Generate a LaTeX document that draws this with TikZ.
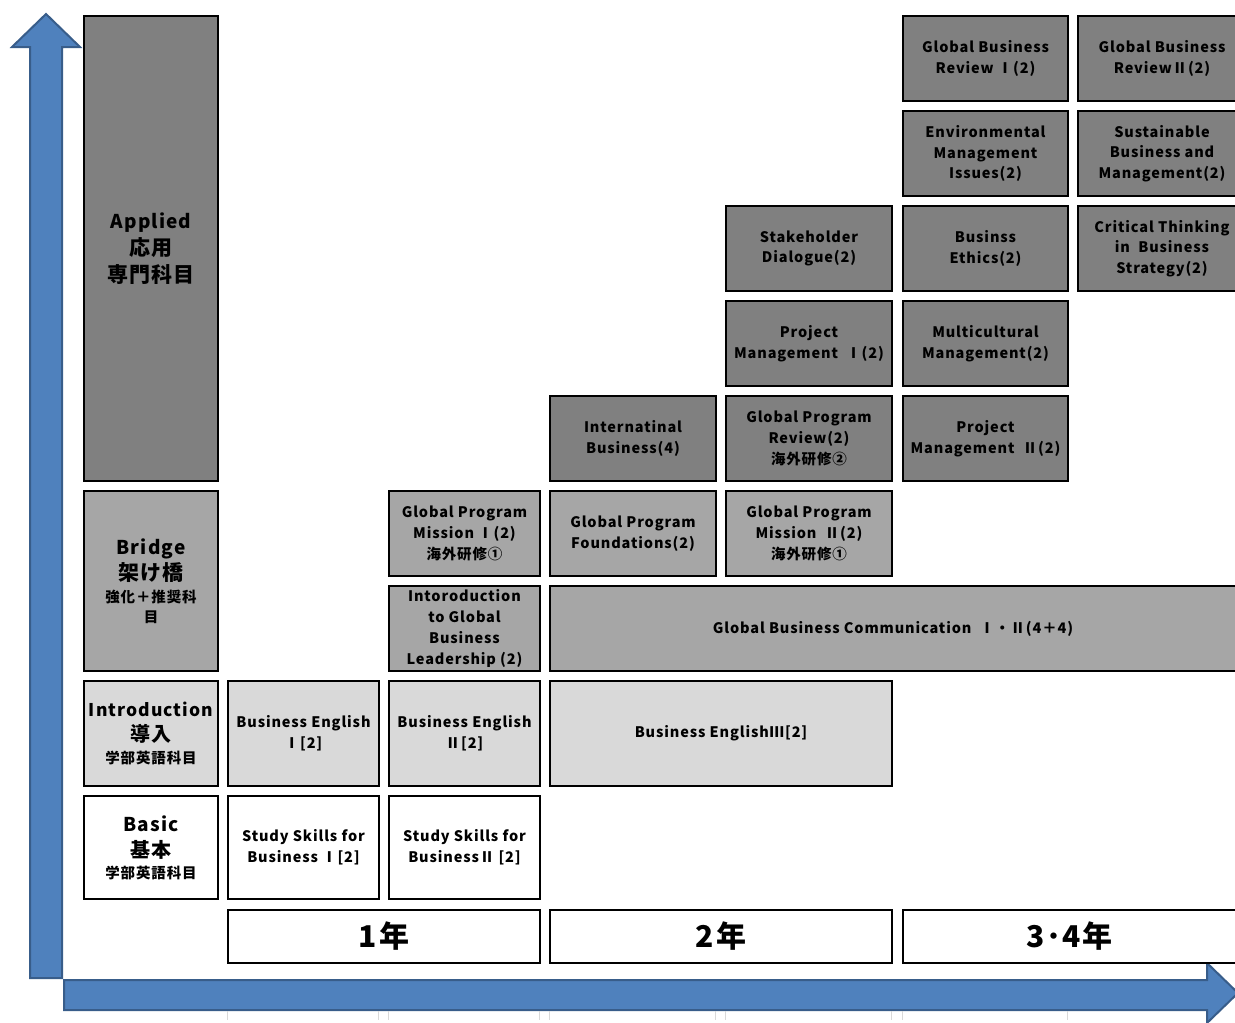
\documentclass[tikz,border=0pt]{standalone}
\usepackage{fontspec}
\setmainfont{Noto Sans CJK JP}[LetterSpace=6]
\definecolor{cdark}{HTML}{808080}
\definecolor{cmid}{HTML}{A6A6A6}
\definecolor{clight}{HTML}{D9D9D9}
\definecolor{bluefill}{HTML}{4F81BD}
\definecolor{blueedge}{HTML}{385D8A}
\newcommand{\crs}[7]{\node[#1, anchor=north west, minimum width={#5-#3}, minimum height={#6-#4}] (#2) at (#3,#4) {#7};}
\newcommand{\fs}[2]{\fontsize{#1}{#2}\selectfont}
\begin{document}
\begin{tikzpicture}[x=1pt,y=-1pt,
  box/.style={draw=black, line width=2pt, rectangle, inner sep=1pt, align=center,
    font=\bfseries\fontsize{14.5}{20.7}\selectfont},
  dk/.style={box, fill=cdark},
  md/.style={box, fill=cmid},
  lt/.style={box, fill=clight},
  wh/.style={box, fill=white},
  yr/.style={box, fill=white, font=\bfseries\fontsize{30}{34}\selectfont},
  arrow/.style={fill=bluefill, draw=blueedge, line width=2pt, line join=miter},
  tick/.style={draw=black!15, line width=0.6pt}]
\useasboundingbox (0,0) rectangle (1235,1023);

% arrows
\draw[arrow] (30,978) -- (30,47) -- (12,47) -- (46,14) -- (80,47) -- (62,47) -- (62,978) -- cycle;
\draw[arrow] (64,1010) -- (64,980) -- (1207,980) -- (1207,963) -- (1238,993) -- (1207,1023) -- (1207,1010) -- cycle;

% faint grid ticks
\foreach \x in {227,378,388,539,549,715,725,891,902,1067}
  \draw[tick] (\x,1011) -- (\x,1020);

% level labels
\crs{dk, font=\bfseries\fs{19}{27}}{applied}{83}{15}{217}{480}{Applied\\\fs{21}{27}応用\\\fs{21}{27}専門科目}
\crs{md, font=\bfseries\fs{19}{24.5}}{bridge}{83}{490}{217}{670}{Bridge\\[1pt]\fs{21}{24.5}架け橋\\[-2pt]\fs{14.5}{21}強化＋推奨科\\[-5pt]\fs{14.5}{21}目}
\crs{lt, font=\bfseries\fs{17.5}{24.5}}{intro}{83}{680}{217}{785}{Introduction\\\fs{20}{24.5}導入\\[-2pt]\fs{14.5}{24.5}学部英語科目}
\crs{wh, font=\bfseries\fs{19}{25}}{basic}{83}{795}{217}{898}{Basic\\[1pt]\fs{20}{25}基本\\[-4pt]\fs{14.5}{24.5}学部英語科目}

% row 1
\crs{dk}{gbr1}{902}{15}{1067}{100}{Global Business\\Review Ⅰ(2)}
\crs{dk}{gbr2}{1077}{15}{1245}{100}{Global Business\\ReviewⅡ(2)}
% row 2
\crs{dk}{env}{902}{110}{1067}{195}{Environmental\\Management\\Issues(2)}
\crs{dk}{sus}{1077}{110}{1245}{195}{Sustainable\\Business and\\Management(2)}
% row 3
\crs{dk}{stake}{725}{205}{891}{290}{Stakeholder\\Dialogue(2)}
\crs{dk}{ethics}{902}{205}{1067}{290}{Businss\\Ethics(2)}
\crs{dk}{crit}{1077}{205}{1245}{290}{Critical Thinking\\in~ Business\\Strategy(2)}
% row 4
\crs{dk}{pm1}{725}{300}{891}{385}{Project\\Management~ Ⅰ(2)}
\crs{dk}{multi}{902}{300}{1067}{385}{Multicultural\\Management(2)}
% row 5
\crs{dk}{intl}{549}{395}{715}{480}{Internatinal\\Business(4)}
\crs{dk}{gpr}{725}{395}{891}{480}{Global Program\\Review(2)\\海外研修②}
\crs{dk}{pm2}{902}{395}{1067}{480}{Project\\Management~ Ⅱ(2)}
% row 6
\crs{md}{gpm1}{388}{490}{539}{575}{Global Program\\Mission Ⅰ(2)\\海外研修①}
\crs{md}{gpf}{549}{490}{715}{575}{Global Program\\Foundations(2)}
\crs{md}{gpm2}{725}{490}{891}{575}{Global Program\\Mission~ Ⅱ(2)\\海外研修①}
% row 7
\crs{md}{igbl}{388}{585}{539}{670}{Intoroduction\\to Global\\Business\\Leadership (2)}
\crs{md}{gbc}{549}{585}{1245}{670}{\hspace*{-10pt}Global Business Communication~ Ⅰ・Ⅱ(4＋4)}
% row 8
\crs{lt}{be1}{227}{680}{378}{785}{Business English\\Ⅰ[2]}
\crs{lt}{be2}{388}{680}{539}{785}{Business English\\Ⅱ[2]}
\crs{lt}{be3}{549}{680}{891}{785}{Business EnglishⅢ[2]}
% row 9
\crs{wh}{ss1}{227}{795}{378}{898}{Study Skills for\\Business Ⅰ[2]}
\crs{wh}{ss2}{388}{795}{539}{898}{Study Skills for\\BusinessⅡ [2]}
% years
\crs{yr}{y1}{227}{909}{539}{962}{1年}
\crs{yr}{y2}{549}{909}{891}{962}{2年}
\crs{yr}{y34}{902}{909}{1245}{962}{\hspace*{-10pt}3･4年}
\end{tikzpicture}
\end{document}
